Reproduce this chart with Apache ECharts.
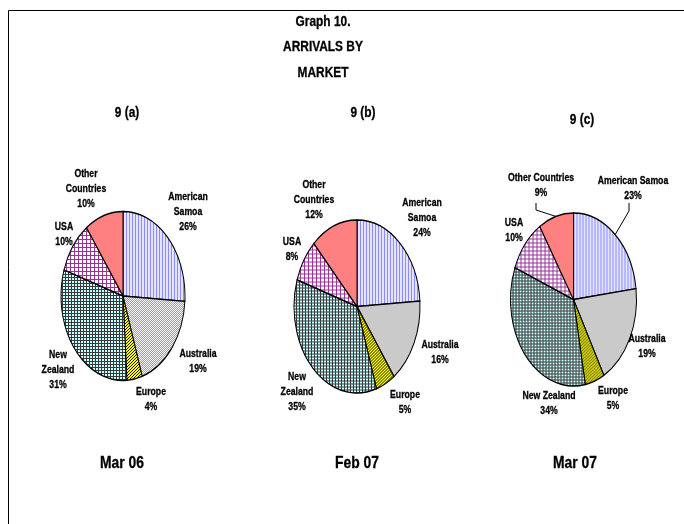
<!DOCTYPE html>
<html>
<head>
<meta charset="utf-8">
<script src="https://cdn.jsdelivr.net/npm/echarts@6/dist/echarts.min.js"></script>
<style>
  html, body { margin: 0; padding: 0; background: #fff; }
  #chart { width: 684px; height: 524px; }
</style>
</head>
<body>
<div id="chart"></div>
<script>
// ---- data ----
const markets = ['American Samoa', 'Australia', 'Europe', 'New Zealand', 'USA', 'Other Countries'];
const sharesMar06 = [26, 19, 4, 31, 10, 10];
const sharesFeb07 = [24, 16, 5, 35, 8, 12];
const sharesMar07 = [23, 19, 5, 34, 10, 9];
const panelTags = ['9 (a)', '9 (b)', '9 (c)'];
const periodLabels = ['Mar 06', 'Feb 07', 'Mar 07'];
const titleLines = ['Graph 10.', 'ARRIVALS BY', 'MARKET'];

// ---- look ----
const FONT = "'Liberation Sans',Arial,sans-serif";
const NARROW = 0.79;   // horizontal squeeze for a condensed look

function tile(w, h, bg, ink, pixels) {
  const c = document.createElement('canvas');
  c.width = w; c.height = h;
  const g = c.getContext('2d');
  g.fillStyle = bg; g.fillRect(0, 0, w, h);
  g.fillStyle = ink;
  pixels.forEach(([x, y]) => g.fillRect(x, y, 1, 1));
  return c;
}
function rows(w, r) { const o = []; for (let x = 0; x < w; x++) o.push([x, r]); return o; }
function cols(h, c) { const o = []; for (let y = 0; y < h; y++) o.push([c, y]); return o; }

const tiles = [
  tile(3, 1, '#e4e4ff', '#8c8cff', [[0, 0]]),                         // vertical stripes
  tile(2, 2, '#f4f4f4', '#a0a0a0', [[0, 0], [1, 1]]),                 // fine grey dots
  tile(3, 3, '#ffff00', '#111111', [[2, 0], [1, 1], [0, 2]]),         // diagonal hatch
  tile(3, 3, '#ccffff', '#3a3a3a', rows(3, 2).concat(cols(3, 2))),    // dark grid on cyan
  tile(4, 4, '#ffffff', '#993399', rows(4, 3).concat(cols(4, 3))),    // purple grid
  null                                                                 // solid
];
const solidFill = '#ff8080';

function fillFor(i, k) {
  if (!tiles[i]) return solidFill;
  return { type: 'pattern', image: tiles[i], repeat: 'repeat', scaleX: 1, scaleY: 1 / k };
}

// ---- layout of the three panels ----
const pies = [
  {
    shares: sharesMar06, cx: 123, cy: 296, rx: 62, ry: 84.5, wrap: true,
    spots: [[188, 212], [198, 361], [151, 399.5], [58, 370], [64, 234], [86, 189]],
    leaders: {}
  },
  {
    shares: sharesFeb07, cx: 357, cy: 306.5, rx: 63, ry: 86.5, wrap: true,
    spots: [[422, 218], [440, 352.5], [405, 402], [297, 392], [292, 249.5], [314, 200]],
    leaders: {}
  },
  {
    shares: sharesMar07, cx: 573.5, cy: 299.5, rx: 63, ry: 86.5, wrap: false,
    spots: [[633, 188], [647, 346.5], [613, 398], [549, 403.5], [514, 230.5], [541, 185.5]],
    leaders: { 0: [[629, 203], [629, 211]], 5: [[536, 203], [536, 210]] }
  }
];

function pieSeries(p) {
  const total = p.shares.reduce((a, b) => a + b, 0);
  const starts = [];
  let acc = 0;
  p.shares.forEach(v => { starts.push(acc); acc += v; });
  const k = p.ry / p.rx;
  return {
    type: 'custom',
    coordinateSystem: 'none',
    silent: true,
    animation: false,
    data: p.shares.map((v, i) => [i, v]),
    renderItem(params, api) {
      const i = api.value(0);
      const v = api.value(1);
      const a0 = -Math.PI / 2 + starts[i] / total * Math.PI * 2;
      const a1 = a0 + v / total * Math.PI * 2;
      const mid = (a0 + a1) / 2;
      const name = p.wrap ? markets[i].replace(' ', '\n') : markets[i];
      const children = [
        {
          type: 'sector',
          x: p.cx, y: p.cy, scaleX: 1, scaleY: k,
          shape: { cx: 0, cy: 0, r0: 0, r: p.rx, startAngle: a0, endAngle: a1, clockwise: true },
          style: { fill: fillFor(i, k), stroke: '#000', lineWidth: 1, strokeNoScale: true }
        },
        {
          type: 'text',
          x: p.spots[i][0], y: p.spots[i][1], scaleX: NARROW,
          style: {
            text: name + '\n' + v + '%',
            font: 'bold 11px ' + FONT,
            fill: '#000', stroke: '#000', lineWidth: 0.3,
            align: 'center', verticalAlign: 'middle',
            textAlign: 'center', textVerticalAlign: 'middle',
            lineHeight: 15
          }
        }
      ];
      if (p.leaders[i]) {
        const edge = [p.cx + p.rx * Math.cos(mid), p.cy + p.ry * Math.sin(mid)];
        children.push({
          type: 'polyline',
          shape: { points: p.leaders[i].concat([edge]) },
          style: { stroke: '#000', lineWidth: 1, fill: null }
        });
      }
      return { type: 'group', children };
    }
  };
}

function label(text, x, y, size, squeeze) {
  return {
    type: 'text', x, y, scaleX: squeeze, silent: true,
    style: {
      text, font: 'bold ' + size + 'px ' + FONT, fill: '#000', stroke: '#000', lineWidth: 0.3,
      align: 'center', verticalAlign: 'middle',
      textAlign: 'center', textVerticalAlign: 'middle'
    }
  };
}

const titleX = 323;
const tagSpots = [[127, 113], [363, 113], [582, 120]];
const periodSpots = [[122, 463], [357, 463], [575, 463]];

const graphic = [
  { type: 'rect', silent: true, shape: { x: 8.5, y: 10.5, width: 900, height: 900 },
    style: { fill: null, stroke: '#000', lineWidth: 1 } }
];
titleLines.forEach((t, j) => graphic.push(label(t, titleX, 22 + j * 25.5, 14, 0.85)));
panelTags.forEach((t, j) => graphic.push(label(t, tagSpots[j][0], tagSpots[j][1], 14, 0.85)));
periodLabels.forEach((t, j) => graphic.push(label(t, periodSpots[j][0], periodSpots[j][1], 16.5, 0.84)));

const chart = echarts.init(document.getElementById('chart'), null, { renderer: 'canvas' });
chart.setOption({
  backgroundColor: '#fff',
  animation: false,
  graphic,
  series: pies.map(pieSeries)
});
</script>
</body>
</html>
